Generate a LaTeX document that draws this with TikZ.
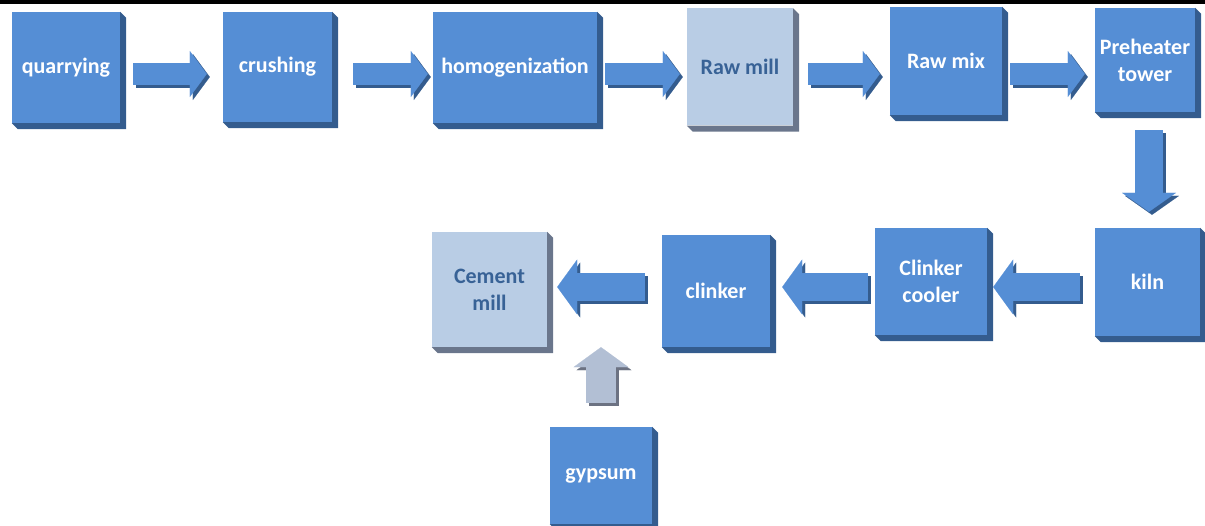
\documentclass[tikz,border=0pt]{standalone}
\usepackage{fontspec}
\setmainfont{Carlito}
\usetikzlibrary{arrows.meta,calc}

\definecolor{boxblue}{RGB}{85,142,213}
\definecolor{boxdark}{RGB}{52,92,142}
\definecolor{millface}{RGB}{185,205,229}
\definecolor{milldark}{RGB}{106,118,140}
\definecolor{milltext}{RGB}{56,98,150}
\definecolor{gypface}{RGB}{178,191,212}
\definecolor{gypdark}{RGB}{108,114,130}

% side and bottom faces of a box
\newcommand{\extrude}[2]{%
  \fill[#2] (#1.north east) -- ++(6,6) -- ($(#1.south east)+(6,6)$)
    -- ($(#1.south west)+(6,6)$) -- (#1.south west) -- (#1.south east) -- cycle;}

\begin{document}
\begin{tikzpicture}[x=1pt,y=-1pt,
  stage/.style={fill=boxblue,text=white,inner sep=0pt,align=center,
    font=\bfseries\fontsize{22}{27}\selectfont},
  mill/.style={stage,fill=millface,text=milltext},
  flow/.style n args={5}{draw=#1,line width=#3,
    -{Triangle[width=#4,length=#5,line width=0.1pt]},
    preaction={draw=#2,line width=#3,transform canvas={shift={(3pt,-3pt)}}}},
  flowr/.style={flow={boxblue}{boxdark}{22pt}{46pt}{17pt}},
  flowl/.style={flow={boxblue}{boxdark}{28pt}{55pt}{20pt}},
  flowd/.style={flow={boxblue}{boxdark}{28pt}{54pt}{19pt}},
  flowgyp/.style={flow={gypface}{gypdark}{30pt}{55pt}{20pt}}]
\useasboundingbox (0,0) rectangle (1205,526);
\fill[black] (0,0) rectangle (1205,4);

% top row
\node[stage,minimum width=108,minimum height=111] (quarry) at (66,67.5) {quarrying};
\node[stage,minimum width=109,minimum height=110] (crush) at (277.5,67) {crushing};
\node[stage,minimum width=164,minimum height=111] (homog) at (515,67.5) {homogenization};
\node[mill,minimum width=106,minimum height=117] (rawmill) at (740,67) {Raw mill};
\node[stage,minimum width=112,minimum height=108] (rawmix) at (946,61) {Raw mix};
\node[stage,minimum width=100,minimum height=104] (preheat) at (1145,60) {Preheater\\tower};

% bottom row
\node[stage,minimum width=105,minimum height=108] (kiln) at (1147.5,282) {kiln};
\node[stage,minimum width=112,minimum height=107] (cooler) at (931,281.5) {Clinker\\cooler};
\node[stage,minimum width=108,minimum height=112] (clinker) at (716,291) {clinker};
\node[mill,minimum width=115,minimum height=115] (cement) at (489.5,289.5) {Cement\\mill};
\node[stage,minimum width=102,minimum height=97] (gyp) at (601,475.5) {gypsum};

\foreach \n in {quarry,crush,homog,rawmix,preheat,kiln,cooler,clinker,gyp}
  \extrude{\n}{boxdark};
\foreach \n in {rawmill,cement}
  \extrude{\n}{milldark};

\coordinate (toprow) at (0,74);
\coordinate (botrow) at (0,287);
\coordinate (rcol) at (1149,0);

\draw[flowr,shorten <=13pt,shorten >=16pt] (quarry.east |- toprow) -- (crush.west |- toprow);
\draw[flowr,shorten <=21pt,shorten >=5pt] (crush.east |- toprow) -- (homog.west |- toprow);
\draw[flowr,shorten <=8pt,shorten >=7pt] (homog.east |- toprow) -- (rawmill.west |- toprow);
\draw[flowr,shorten <=15pt,shorten >=10pt] (rawmill.east |- toprow) -- (rawmix.west |- toprow);
\draw[flowr,shorten <=8pt,shorten >=10pt] (rawmix.east |- toprow) -- (preheat.west |- toprow);
\draw[flowd,shorten <=18pt,shorten >=16pt] (preheat.south -| rcol) -- (kiln.north -| rcol);
\draw[flowl,shorten <=15pt,shorten >=6pt] (kiln.west |- botrow) -- (cooler.east |- botrow);
\draw[flowl,shorten <=7pt,shorten >=12pt] (cooler.west |- botrow) -- (clinker.east |- botrow);
\draw[flowl,shorten <=17pt,shorten >=10pt] (clinker.west |- botrow) -- (cement.east |- botrow);
\draw[flowgyp,shorten <=24pt] (gyp.north) -- (gyp.north |- cement.south);
\end{tikzpicture}
\end{document}
